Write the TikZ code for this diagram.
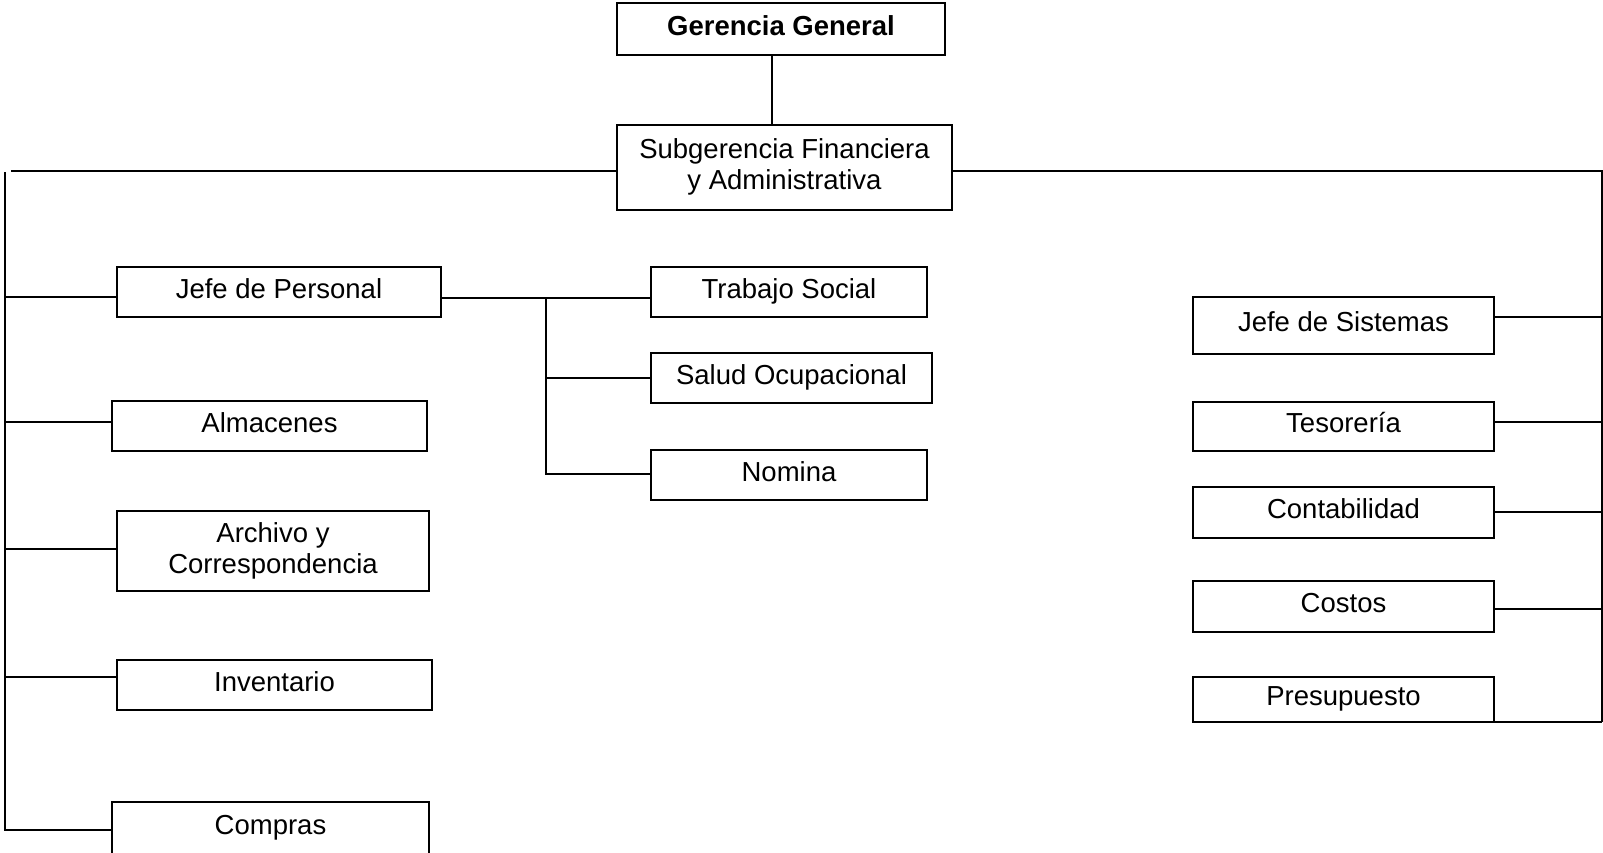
\documentclass[tikz,border=0pt]{standalone}
\usepackage{fontspec}
\setmainfont{Liberation Sans}
\begin{document}
\begin{tikzpicture}[x=1pt,y=-1pt,
  box/.style={draw, line width=2pt, rectangle, inner sep=0pt, outer sep=0pt, align=center,
    font=\fontsize{27.5}{31}\selectfont},
  one/.style={text height=20pt, text depth=8pt},
  conn/.style={line width=2pt}]
\useasboundingbox (0,0) rectangle (1603,852);
% boxes
\node[box,one,minimum width=328pt,minimum height=52pt] (gg) at (781,29) {\textbf{Gerencia General}};
\node[box,minimum width=335pt,minimum height=85pt] (sub) at (784.5,167) {Subgerencia Financiera\\y Administrativa};
\node[box,one,minimum width=324pt,minimum height=50pt] (jp) at (279,292) {Jefe de Personal};
\node[box,one,minimum width=315pt,minimum height=50pt] (alm) at (269.5,426) {Almacenes};
\node[box,minimum width=312pt,minimum height=80pt] (arc) at (273,551) {Archivo y\\Correspondencia};
\node[box,one,minimum width=315pt,minimum height=50pt] (inv) at (274.5,685) {Inventario};
\node[box,one,minimum width=317pt,minimum height=52pt] (com) at (270.5,828) {Compras};
\node[box,one,minimum width=276pt,minimum height=50pt] (ts) at (789,292) {Trabajo Social};
\node[box,one,minimum width=281pt,minimum height=50pt] (so) at (791.5,378) {Salud Ocupacional};
\node[box,one,minimum width=276pt,minimum height=50pt] (nom) at (789,475) {Nomina};
\node[box,one,minimum width=301pt,minimum height=57pt] (js) at (1343.5,325.5) {Jefe de Sistemas};
\node[box,one,minimum width=301pt,minimum height=49pt] (tes) at (1343.5,426.5) {Tesorería};
\node[box,one,minimum width=301pt,minimum height=51pt] (con) at (1343.5,512.5) {Contabilidad};
\node[box,one,minimum width=301pt,minimum height=51pt] (cos) at (1343.5,606.5) {Costos};
\node[box,one,minimum width=301pt,minimum height=45pt] (pre) at (1343.5,699.5) {Presupuesto};
% helper coordinates
\coordinate (ggx) at (772,0);
\coordinate (trL) at (11,171);
\coordinate (trLtop) at (5,172);
\coordinate (trLbot) at (5,830);
\coordinate (trR) at (1602,171);
\coordinate (trRbot) at (1602,722);
\coordinate (brx) at (546,298);
\coordinate (brbot) at (546,474);
% connectors
\draw[conn] (gg.south -| ggx) -- (sub.north -| ggx);
\draw[conn] (sub.west |- trL) -- (trL);
\draw[conn] (sub.east |- trR) -- (trR) -- (trRbot);
\draw[conn] (trLtop) -- (trLbot) -- (com.west |- trLbot);
\draw[conn] (5,297) -- (jp.west |- 0,297);
\draw[conn] (5,422) -- (alm.west |- 0,422);
\draw[conn] (5,549) -- (arc.west |- 0,549);
\draw[conn] (5,677) -- (inv.west |- 0,677);
\draw[conn] (jp.east |- brx) -- (ts.west |- brx);
\draw[conn] (brx) -- (brbot) -- (nom.west |- brbot);
\draw[conn] (546,378) -- (so.west |- 0,378);
\draw[conn] (js.east |- 0,317) -- (1602,317);
\draw[conn] (tes.east |- 0,422) -- (1602,422);
\draw[conn] (con.east |- 0,512) -- (1602,512);
\draw[conn] (cos.east |- 0,609) -- (1602,609);
\draw[conn] (pre.south east) -- (trRbot);
\end{tikzpicture}
\end{document}
